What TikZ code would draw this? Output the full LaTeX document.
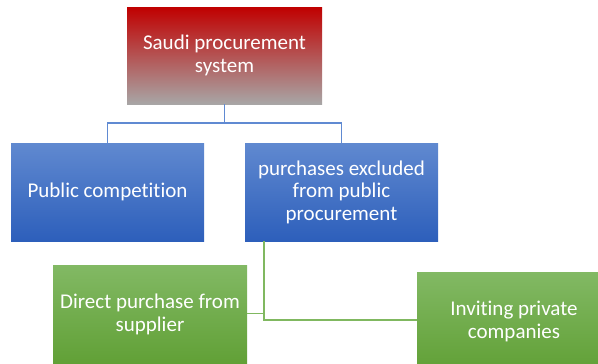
\documentclass[tikz,border=0pt]{standalone}
\usepackage{fontspec}
\setmainfont{Carlito}[Ligatures = NoCommon]
\usepackage{tikz}
\usetikzlibrary{positioning}
\definecolor{redtop}{RGB}{192,0,0}
\definecolor{graybot}{RGB}{168,166,166}
\definecolor{bluetop}{RGB}{96,137,208}
\definecolor{bluebot}{RGB}{45,95,187}
\definecolor{greentop}{RGB}{130,185,100}
\definecolor{greenbot}{RGB}{97,160,54}
\definecolor{blueedge}{RGB}{96,138,210}
\definecolor{greenedge}{RGB}{128,184,96}
\hyphenpenalty = 10000
\tikzset{box/.style = {rectangle, inner sep = 0, text = white, align = center,
                       font = \fontsize{21}{22.5}\selectfont}}
\tikzset{redbox/.style = {box, top color = redtop, bottom color = graybot,
                          minimum width = 195pt, minimum height = 97pt}}
\tikzset{bluebox/.style = {box, top color = bluetop, bottom color = bluebot,
                           minimum width = 193pt, minimum height = 98pt}}
\tikzset{greenbox/.style = {box, top color = greentop, bottom color = greenbot,
                            minimum width = 194pt, minimum height = 99pt}}
\tikzset{blueline/.style = {draw = blueedge, line width = 1.5pt}}
\tikzset{greenline/.style = {draw = greenedge, line width = 1.5pt}}

\begin{document}
\begin{tikzpicture}[x = 1pt, y = -1pt]
    \useasboundingbox (0, 0) rectangle (598, 364);

    \node [redbox] (sys) at (224.5, 55.5) {Saudi procurement\\system};

    \node [bluebox] (pub) at (107.5, 192) {Public competition};
    \node [bluebox] (excl) at (341.5, 192) {purchases excluded\\from public\\procurement};

    \node [greenbox] (direct) at (150, 314.5) {Direct purchase from\\supplier};
    \node [greenbox] (invite) at (514, 321.5) {Inviting private\\companies};

    \draw [blueline] (sys.south) -- ++(0, 19) -| (pub.north);
    \draw [blueline] (sys.south) -- ++(0, 19) -| (excl.north);

    \coordinate (split) at ([xshift = 19pt] excl.south west);
    \draw [greenline] (split) |- ([yshift = 1pt] direct.east);
    \draw [greenline] (split) |- ([yshift = 1.5pt] invite.west);

  \end{tikzpicture}
\end{document}
